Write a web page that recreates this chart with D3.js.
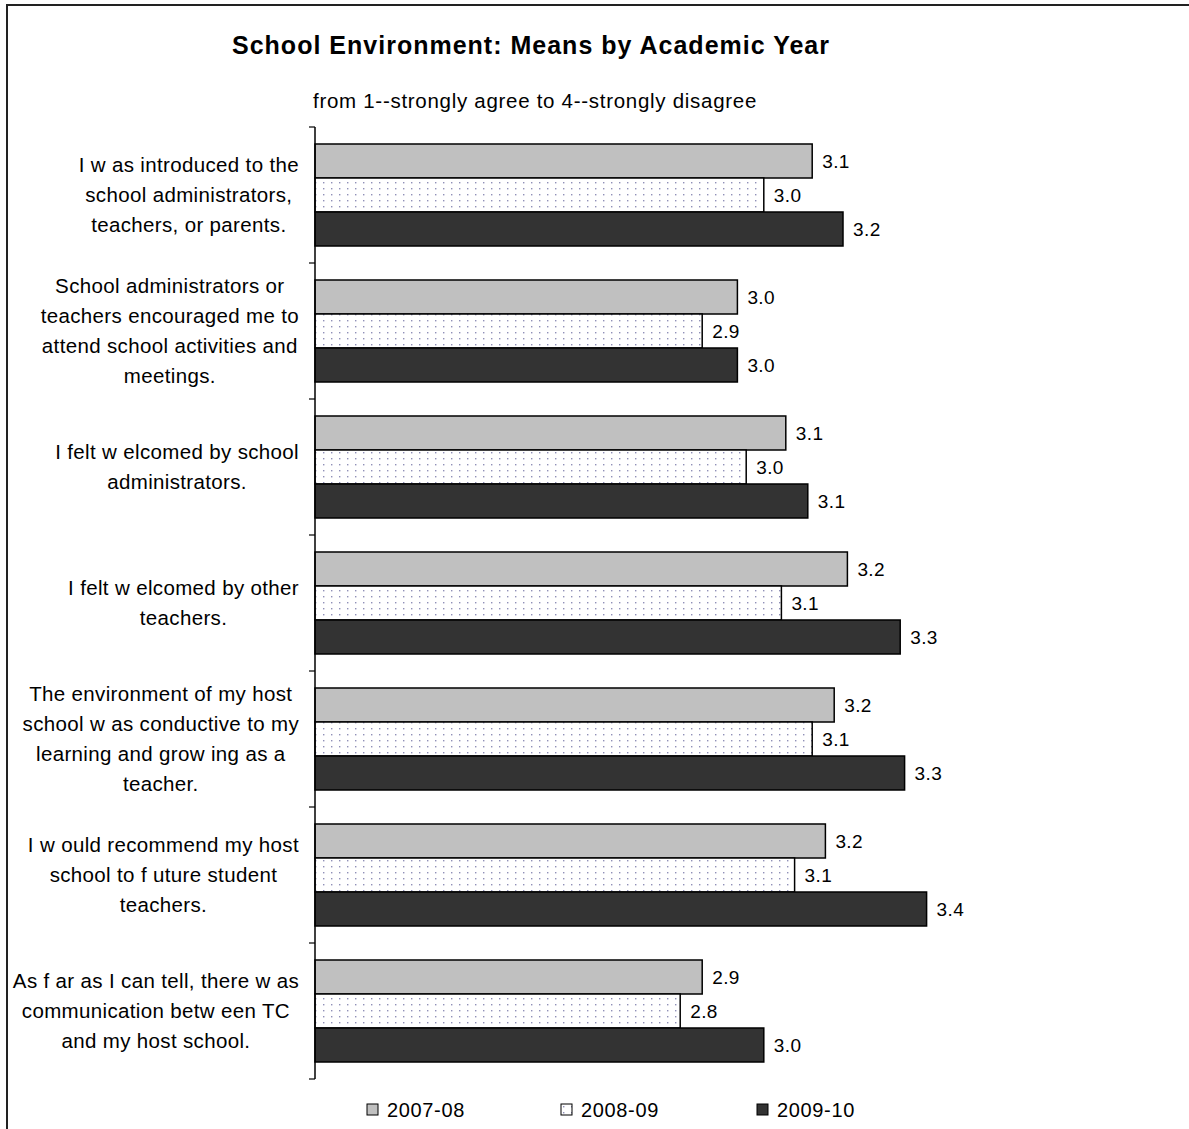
<!DOCTYPE html>
<html><head><meta charset="utf-8">
<script src="https://cdn.jsdelivr.net/npm/d3@7"></script>
<style>
body{margin:0;background:#fff;}
svg{display:block;font-family:"Liberation Sans",Arial,sans-serif;}
</style></head>
<body>
<svg id="chart" width="1189" height="1129"></svg>
<script>
const categories = [
  "I w as introduced to the\nschool administrators,\nteachers, or parents.",
  "School administrators or\nteachers encouraged me to\nattend school activities and\nmeetings.",
  "I felt w elcomed by school\nadministrators.",
  "I felt w elcomed by other\nteachers.",
  "The environment of my host\nschool w as conductive to my\nlearning and grow ing as a\nteacher.",
  "I w ould recommend my host\nschool to f uture student\nteachers.",
  "As f ar as I can tell, there w as\ncommunication betw een TC\nand my host school."
];
const seriesNames = ["2007-08", "2008-09", "2009-10"];
const values2007 = [3.13, 2.96, 3.07, 3.21, 3.18, 3.16, 2.88];
const values2008 = [3.02, 2.88, 2.98, 3.06, 3.13, 3.09, 2.83];
const values2009 = [3.20, 2.96, 3.12, 3.33, 3.34, 3.39, 3.02];
const xDomain = [2, 4];
const title = "School Environment: Means by Academic Year";
const subtitle = "from 1--strongly agree to 4--strongly disagree";

const svg = d3.select("#chart");
const defs = svg.append("defs");
const pat = defs.append("pattern").attr("id","dots").attr("patternUnits","userSpaceOnUse")
  .attr("width",8).attr("height",6);
pat.append("rect").attr("width",8).attr("height",6).attr("fill","#fff");
pat.append("rect").attr("x",3).attr("y",2).attr("width",1.4).attr("height",1.4).attr("fill","#9090b8");

const fills = ["#c0c0c0", "url(#dots)", "#333333"];
const seriesVals = [values2007, values2008, values2009];

// fit text to a target width by letter-spacing
function fitWidth(sel, target){
  const n = sel.text().length;
  const w = sel.node().getComputedTextLength();
  sel.attr("letter-spacing", Math.max(0, (target - w) / n));
}

// frame
svg.append("path").attr("d","M7,1129V5H1189").attr("fill","none").attr("stroke","#222").attr("stroke-width",2);

const plotLeft = 315, plotTop = 127, plotBottom = 1079;
const x = d3.scaleLinear().domain(xDomain).range([plotLeft, 1195]);
const y = d3.scaleBand().domain(d3.range(categories.length)).range([plotTop, plotBottom]).paddingInner(0).paddingOuter(0);
const inner = d3.scaleBand().domain(d3.range(3)).range([0, y.bandwidth()]).paddingOuter(0.5).paddingInner(0);

// title
const tt = svg.append("text").attr("x",531).attr("y",54).attr("text-anchor","middle")
  .attr("font-size",25).attr("font-weight","bold").text(title);
fitWidth(tt, 598);
const st = svg.append("text").attr("x",535).attr("y",108).attr("text-anchor","middle")
  .attr("font-size",20.5).text(subtitle);
fitWidth(st, 444);

// bars
const g = svg.append("g");
categories.forEach((c,i)=>{
  seriesVals.forEach((vals,s)=>{
    const by = y(i) + inner(s);
    g.append("rect").attr("x", x(xDomain[0])).attr("y", by)
      .attr("width", x(vals[i]) - x(xDomain[0])).attr("height", inner.bandwidth())
      .attr("fill", fills[s]).attr("stroke","#000").attr("stroke-width",1.5);
    g.append("text").attr("x", x(vals[i]) + 10).attr("y", by + inner.bandwidth()/2 + 7)
      .attr("font-size",19).attr("letter-spacing",0.4).text(d3.format(".1f")(vals[i]));
  });
});

// axis
const axis = svg.append("g");
axis.append("line").attr("x1",plotLeft).attr("x2",plotLeft).attr("y1",plotTop).attr("y2",plotBottom).attr("stroke","#000").attr("stroke-width",1.5);
d3.range(categories.length+1).forEach(i=>{
  const ty = i < categories.length ? y(i) : plotBottom;
  axis.append("line").attr("x1",plotLeft-6).attr("x2",plotLeft).attr("y1",ty).attr("y2",ty).attr("stroke","#000").attr("stroke-width",1.2);
});

// category labels
const lineH = 30;
categories.forEach((c,i)=>{
  const lines = c.split("\n");
  const t = svg.append("text").attr("font-size",20.5).attr("letter-spacing",0.35).attr("text-anchor","middle");
  const cy = y(i) + y.bandwidth()/2;
  const tspans = lines.map((l,k)=> t.append("tspan").text(l).attr("y", cy + (k - (lines.length-1)/2)*lineH + 7));
  const w = d3.max(tspans, s => s.node().getComputedTextLength());
  const right = 299;
  tspans.forEach(s=> s.attr("x", right - w/2));
});

// legend
const legX = [367, 561, 757];
seriesNames.forEach((n,s)=>{
  svg.append("rect").attr("x",legX[s]).attr("y",1104).attr("width",11).attr("height",11)
    .attr("fill",fills[s]).attr("stroke","#000").attr("stroke-width",1);
  const lt = svg.append("text").attr("x",legX[s]+20).attr("y",1117).attr("font-size",20).text(n);
  fitWidth(lt, 78);
});
</script>
</body></html>
